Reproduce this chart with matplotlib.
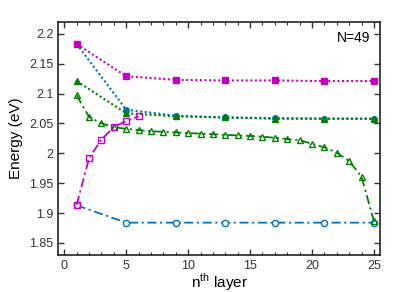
import numpy as np
import matplotlib.pyplot as plt

plt.rcParams['font.family'] = ['Liberation Sans', 'DejaVu Sans']
plt.rcParams['mathtext.fontset'] = 'custom'
plt.rcParams['mathtext.rm'] = 'Liberation Sans'

# sparse layers
x_sparse = [1, 5, 9, 13, 17, 21, 25]
e_sq_fill = [2.183, 2.129, 2.123, 2.122, 2.122, 2.121, 2.121]
e_ci_fill = [2.183, 2.073, 2.063, 2.060, 2.059, 2.058, 2.058]
e_tr_fill = [2.121, 2.067, 2.062, 2.060, 2.058, 2.058, 2.058]
e_ci_open = [1.913, 1.884, 1.884, 1.884, 1.884, 1.884, 1.884]

# every layer
x_all = list(range(1, 26))
e_tr_open = [2.097, 2.061, 2.050, 2.044, 2.041, 2.039, 2.037, 2.036, 2.035,
             2.034, 2.033, 2.032, 2.031, 2.030, 2.029, 2.028, 2.026, 2.024,
             2.022, 2.016, 2.010, 2.001, 1.987, 1.961, 1.886]

x_sq_open = [1, 2, 3, 4, 5, 6]
e_sq_open = [1.914, 1.992, 2.023, 2.044, 2.054, 2.062]

magenta = '#C400C4'
blue = '#0072BD'
green = '#008000'

dot = (0, (1, 1.2))
dashdot = (0, (5, 2, 1.2, 2))

fig = plt.figure(figsize=(4.15, 2.92), dpi=100)
ax = fig.add_axes([0.14, 0.127, 0.776, 0.798])

ax.plot(x_sparse, e_ci_fill, ls=dot, color=blue, marker='o', ms=4, mfc=blue, lw=1.5)
ax.plot(x_sparse, e_sq_fill, ls=dot, color=magenta, marker='s', ms=4, mfc=magenta, lw=1.5)
ax.plot(x_sparse, e_tr_fill, ls=dot, color=green, marker='^', ms=5, mfc=green, lw=1.5)
ax.plot(x_sparse, e_ci_open, ls=dashdot, color=blue, marker='o', ms=4.5, mfc='white', lw=1.3)
ax.plot(x_all, e_tr_open, ls=dashdot, color=green, marker='^', ms=5, mfc='none', lw=1.3)
ax.plot(x_sq_open, e_sq_open, ls=dashdot, color=magenta, marker='s', ms=4, mfc='none', lw=1.3)

ax.set_xlim(-0.5, 25.5)
ax.set_ylim(1.83, 2.22)
ax.set_xticks([0, 5, 10, 15, 20, 25])
ax.set_xticks(np.arange(0, 26, 1), minor=True)
ax.set_yticks([1.85, 1.9, 1.95, 2.0, 2.05, 2.1, 2.15, 2.2])
ax.set_yticklabels(['1.85', '1.9', '1.95', '2', '2.05', '2.1', '2.15', '2.2'])
ax.tick_params(which='both', direction='in', top=True, right=True, labelsize=9,
               colors='#333333', labelcolor='#333333')
ax.tick_params(which='major', length=4, width=1)
ax.tick_params(which='minor', length=2, width=0.8)
for s in ax.spines.values():
    s.set_linewidth(1.2)
    s.set_color('#222222')

ax.set_xlabel(r'n$^{\rm th}$ layer', fontsize=11, labelpad=0)
ax.set_ylabel('Energy (eV)', fontsize=11)
ax.text(0.97, 0.93, 'N=49', transform=ax.transAxes, ha='right', va='center', fontsize=10)

fig.savefig('out.png', dpi=100)
